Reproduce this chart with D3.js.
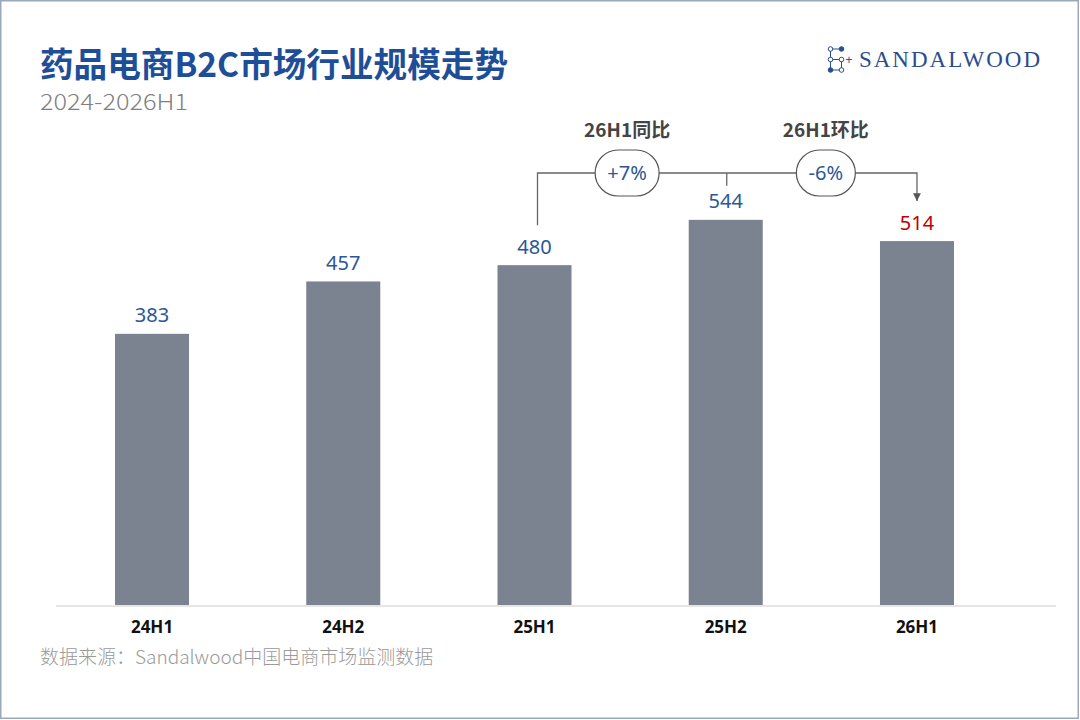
<!DOCTYPE html>
<html>
<head>
<meta charset="utf-8">
<script src="https://cdn.jsdelivr.net/npm/d3@7"></script>
<style>
  html, body { margin: 0; padding: 0; background: #fff; }
  svg { display: block; font-family: "Noto Sans", "Noto Sans CJK SC", sans-serif; }
</style>
</head>
<body>
<svg width="1080" height="720"></svg>
<script>
// data
const periods = ['24H1', '24H2', '25H1', '25H2', '26H1'];
const values = [383, 457, 480, 544, 514];
const yoyLabel = '26H1同比';
const yoyValue = '+7%';
const momLabel = '26H1环比';
const momValue = '-6%';
const title = '药品电商B2C市场行业规模走势';
const subtitle = '2024-2026H1';
const source = '数据来源：Sandalwood中国电商市场监测数据';

const svg = d3.select('svg');
const width = +svg.attr('width');
const height = +svg.attr('height');

const blue = '#1f4e99';
const barColor = '#7a838f';

// frame
svg.append('rect')
  .attr('x', 0.75).attr('y', 0.75)
  .attr('width', width - 2.5).attr('height', height - 2.5)
  .attr('fill', '#fff')
  .attr('stroke', '#9aa8bb')
  .attr('stroke-width', 1.5);

// header
svg.append('text')
  .attr('x', 40).attr('y', 77)
  .attr('font-family', '"Noto Sans CJK SC", sans-serif')
  .attr('font-size', 34)
  .attr('font-weight', 700)
  .attr('textLength', 468)
  .attr('lengthAdjust', 'spacingAndGlyphs')
  .attr('fill', blue)
  .text(title);

svg.append('text')
  .attr('x', 40).attr('y', 110)
  .attr('font-family', '"Noto Sans CJK SC", sans-serif')
  .attr('font-size', 22)
  .attr('font-weight', 300)
  .attr('textLength', 148)
  .attr('lengthAdjust', 'spacingAndGlyphs')
  .attr('fill', '#808080')
  .text(subtitle);

// logo
const logo = svg.append('g').attr('class', 'logo');
const dots = [
  { x: 830.5, y: 49, f: false }, { x: 841.5, y: 49, f: true },
  { x: 830.5, y: 59.5, f: false }, { x: 841.5, y: 59.5, f: false },
  { x: 830.5, y: 70, f: true }, { x: 841.5, y: 70, f: false }
];
const logoLines = [[0, 1], [0, 4], [2, 3], [4, 5], [3, 5]];
logo.selectAll('line.link')
  .data(logoLines)
  .join('line')
  .attr('class', 'link')
  .attr('x1', d => dots[d[0]].x).attr('y1', d => dots[d[0]].y)
  .attr('x2', d => dots[d[1]].x).attr('y2', d => dots[d[1]].y)
  .attr('stroke', '#2a4d8f').attr('stroke-width', 1);
logo.selectAll('circle')
  .data(dots)
  .join('circle')
  .attr('cx', d => d.x).attr('cy', d => d.y)
  .attr('r', 2.3)
  .attr('fill', d => d.f ? '#2a4d8f' : '#fff')
  .attr('stroke', '#2a4d8f').attr('stroke-width', 1);
logo.append('text')
  .attr('x', 849).attr('y', 64)
  .attr('text-anchor', 'middle')
  .attr('font-size', 12)
  .attr('fill', '#2a4d8f')
  .text('+');
logo.append('text')
  .attr('x', 859).attr('y', 67)
  .attr('font-family', '"Liberation Serif", "DejaVu Serif", serif')
  .attr('font-size', 23)
  .attr('textLength', 181)
  .attr('lengthAdjust', 'spacing')
  .attr('fill', '#2a4d8f')
  .text('SANDALWOOD');

// scales
const xScale = d3.scaleBand()
  .domain(periods)
  .range([56.4, 1012.6])
  .paddingInner(0.613)
  .paddingOuter(0.3065);

const yScale = d3.scaleLinear()
  .domain([0, 600])
  .range([605, 180.2]);

const cx = p => xScale(p) + xScale.bandwidth() / 2;

// bars
const g = svg.append('g');
g.selectAll('rect.bar')
  .data(periods)
  .join('rect')
  .attr('class', 'bar')
  .attr('x', d => xScale(d))
  .attr('y', (d, i) => yScale(values[i]))
  .attr('width', xScale.bandwidth())
  .attr('height', (d, i) => yScale(0) - yScale(values[i]))
  .attr('fill', barColor);

// baseline
g.append('line')
  .attr('x1', 56).attr('x2', 1056)
  .attr('y1', 606).attr('y2', 606)
  .attr('stroke', '#dcdcdc')
  .attr('stroke-width', 1.5);

// value labels
g.selectAll('text.value')
  .data(periods)
  .join('text')
  .attr('class', 'value')
  .attr('x', d => cx(d))
  .attr('y', (d, i) => yScale(values[i]) - 11.5)
  .attr('text-anchor', 'middle')
  .attr('font-size', 20)
  .attr('fill', (d, i) => i === periods.length - 1 ? '#c00000' : '#2b5797')
  .text((d, i) => values[i]);

// x axis
const xAxis = g.append('g')
  .attr('transform', 'translate(0,606)')
  .call(d3.axisBottom(xScale).tickSize(0).tickPadding(15));
xAxis.select('.domain').remove();
xAxis.selectAll('text')
  .attr('font-family', '"Noto Sans", sans-serif')
  .attr('font-size', 17)
  .attr('font-weight', 700)
  .attr('fill', '#111');

// growth annotation
const lineY = 173;
const ann = svg.append('g').attr('class', 'annotation');
svg.append('defs').append('marker')
  .attr('id', 'arrow')
  .attr('viewBox', '0 0 10 10')
  .attr('refX', 10).attr('refY', 5)
  .attr('markerWidth', 6).attr('markerHeight', 6)
  .attr('orient', 'auto')
  .append('path')
  .attr('d', 'M0,0 L10,5 L0,10 Z')
  .attr('fill', '#555');

const xa = cx('25H1') + 3;
const xb = cx('25H2') + 1;
const xc = cx('26H1');

ann.append('path')
  .attr('d', `M${xa},${yScale(480) - 40} V${lineY} H${xc} V${yScale(514) - 40}`)
  .attr('fill', 'none')
  .attr('stroke', '#666')
  .attr('stroke-width', 1.3)
  .attr('marker-end', 'url(#arrow)');
ann.append('line')
  .attr('x1', xb).attr('x2', xb)
  .attr('y1', lineY).attr('y2', yScale(544) - 34)
  .attr('stroke', '#666')
  .attr('stroke-width', 1.3);

const pills = [
  { label: yoyLabel, value: yoyValue, x: (xa + xb) / 2 - 5, w: 64 },
  { label: momLabel, value: momValue, x: (xb + xc) / 2 + 4, w: 59 }
];
const pill = ann.selectAll('g.pill')
  .data(pills)
  .join('g')
  .attr('class', 'pill')
  .attr('transform', d => `translate(${d.x},${lineY})`);
pill.append('rect')
  .attr('x', d => -d.w / 2).attr('y', -23)
  .attr('width', d => d.w).attr('height', 46)
  .attr('rx', 23)
  .attr('fill', '#fff')
  .attr('stroke', '#555')
  .attr('stroke-width', 1.2);
pill.append('text')
  .attr('y', 7)
  .attr('text-anchor', 'middle')
  .attr('font-size', 20)
  .attr('fill', '#2b5797')
  .text(d => d.value);
pill.append('text')
  .attr('y', -36)
  .attr('text-anchor', 'middle')
  .attr('font-family', '"Noto Sans CJK SC", sans-serif')
  .attr('font-size', 19)
  .attr('font-weight', 700)
  .attr('fill', '#444')
  .text(d => d.label);

// source
svg.append('text')
  .attr('x', 40).attr('y', 664)
  .attr('font-family', '"Noto Sans CJK SC", sans-serif')
  .attr('font-size', 19)
  .attr('font-weight', 300)
  .attr('fill', '#9a9a9a')
  .text(source);
</script>
</body>
</html>
